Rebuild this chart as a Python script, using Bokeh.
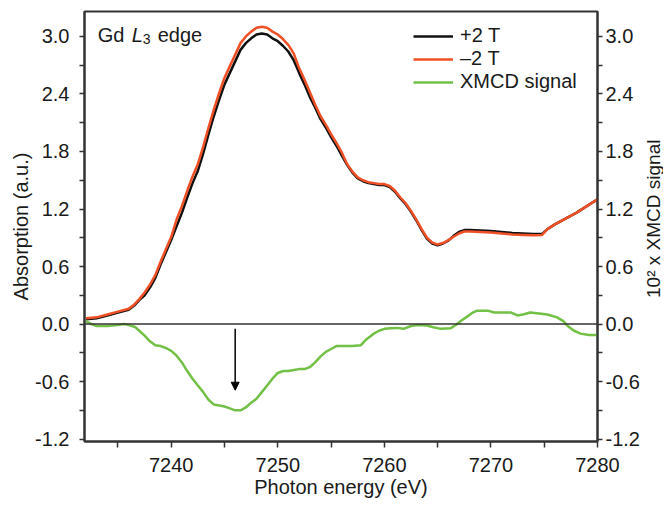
import math
from bokeh.plotting import figure
from bokeh.layouts import row
from bokeh.models import (LinearAxis, FixedTicker, PrintfTickFormatter, Span, Arrow,
                          NormalHead, Label, Legend, LegendItem, Range1d)
from bokeh.embed import file_html
from bokeh.resources import INLINE

# ---------------- data ----------------
energy = [7232.0, 7233.0, 7234.0, 7235.0, 7236.0, 7236.5, 7237.0, 7237.5, 7238.0, 7238.5,
          7239.0, 7239.5, 7240.0, 7240.5, 7241.0, 7241.5, 7242.0, 7242.5, 7243.0, 7243.5,
          7244.0, 7244.5, 7245.0, 7245.5, 7246.0, 7246.5, 7247.0, 7247.5, 7248.0, 7248.5,
          7249.0, 7249.5, 7250.0, 7250.5, 7251.0, 7251.5, 7252.0, 7252.5, 7253.0, 7253.5,
          7254.0, 7254.5, 7255.0, 7255.5, 7256.0, 7256.5, 7257.0, 7257.5, 7258.0, 7258.5,
          7259.0, 7259.5, 7260.0, 7260.5, 7261.0, 7261.5, 7262.0, 7262.5, 7263.0, 7263.5,
          7264.0, 7264.5, 7265.0, 7265.5, 7266.0, 7266.5, 7267.0, 7267.5, 7268.0, 7269.0,
          7270.0, 7271.0, 7272.0, 7273.0, 7274.0, 7274.8, 7275.3, 7276.0, 7277.0, 7278.0,
          7279.0, 7280.0]

abs_plus2T = [0.05, 0.06, 0.09, 0.12, 0.15, 0.19, 0.25, 0.30, 0.38, 0.48,
              0.62, 0.75, 0.88, 1.02, 1.16, 1.32, 1.47, 1.60, 1.78, 1.98,
              2.17, 2.34, 2.50, 2.62, 2.74, 2.86, 2.93, 2.98, 3.02, 3.03,
              3.02, 2.98, 2.95, 2.90, 2.84, 2.75, 2.62, 2.50, 2.37, 2.26,
              2.14, 2.05, 1.95, 1.86, 1.76, 1.66, 1.58, 1.52, 1.49, 1.47,
              1.46, 1.45, 1.45, 1.43, 1.38, 1.31, 1.25, 1.17, 1.08, 0.98,
              0.89, 0.84, 0.82, 0.84, 0.87, 0.92, 0.96, 0.98, 0.98, 0.975,
              0.97, 0.96, 0.95, 0.945, 0.94, 0.94, 0.99, 1.04, 1.10, 1.16,
              1.23, 1.30]

abs_minus2T = [0.06, 0.07, 0.10, 0.13, 0.16, 0.20, 0.26, 0.33, 0.41, 0.51,
               0.65, 0.78, 0.91, 1.09, 1.23, 1.39, 1.54, 1.67, 1.85, 2.05,
               2.24, 2.41, 2.57, 2.69, 2.81, 2.93, 3.00, 3.05, 3.09, 3.10,
               3.09, 3.05, 3.02, 2.97, 2.91, 2.82, 2.67, 2.55, 2.42, 2.29,
               2.17, 2.08, 1.98, 1.89, 1.79, 1.67, 1.59, 1.53, 1.50, 1.48,
               1.47, 1.46, 1.46, 1.44, 1.39, 1.32, 1.26, 1.18, 1.09, 0.99,
               0.90, 0.85, 0.83, 0.845, 0.875, 0.91, 0.945, 0.965, 0.965, 0.96,
               0.955, 0.945, 0.935, 0.93, 0.925, 0.93, 0.99, 1.04, 1.10, 1.16,
               1.23, 1.30]

xmcd_energy = [7232.0, 7232.5, 7233.0, 7234.0, 7235.0, 7235.6, 7236.0, 7236.6, 7237.0, 7237.5,
               7238.0, 7238.5, 7239.0, 7239.5, 7240.0, 7240.5, 7241.0, 7241.5, 7242.0, 7242.5,
               7243.0, 7243.5, 7244.0, 7244.5, 7245.0, 7245.5, 7246.0, 7246.5, 7247.0, 7247.5,
               7248.0, 7248.5, 7249.0, 7249.5, 7250.0, 7250.5, 7251.0, 7251.5, 7252.0, 7252.5,
               7253.0, 7253.5, 7254.0, 7254.5, 7255.0, 7255.5, 7256.0, 7257.0, 7257.8, 7258.3,
               7259.0, 7259.5, 7260.0, 7260.6, 7261.2, 7261.8, 7262.5, 7263.1, 7264.0, 7264.5,
               7265.3, 7266.2, 7266.7, 7267.2, 7267.8, 7268.3, 7268.7, 7269.7, 7270.3, 7271.9,
               7272.5, 7273.0, 7273.7, 7275.3, 7276.2, 7276.8, 7277.2, 7277.8, 7278.4, 7279.2,
               7280.0]

xmcd_signal = [0.03, 0.0, -0.02, -0.02, -0.01, 0.0, -0.01, -0.03, -0.07, -0.12,
               -0.18, -0.22, -0.23, -0.25, -0.28, -0.33, -0.40, -0.49, -0.57, -0.64,
               -0.71, -0.79, -0.84, -0.85, -0.86, -0.88, -0.90, -0.90, -0.87, -0.82,
               -0.78, -0.71, -0.64, -0.57, -0.51, -0.49, -0.49, -0.48, -0.47, -0.47,
               -0.45, -0.40, -0.34, -0.29, -0.26, -0.23, -0.23, -0.23, -0.22, -0.16,
               -0.10, -0.07, -0.05, -0.045, -0.04, -0.05, -0.02, -0.01, -0.015, -0.03,
               -0.05, -0.045, -0.01, 0.035, 0.08, 0.12, 0.14, 0.14, 0.12, 0.12,
               0.09, 0.10, 0.12, 0.10, 0.07, 0.03, -0.02, -0.07, -0.10, -0.115,
               -0.115]

x_ticks = [7240, 7250, 7260, 7270, 7280]
x_minor_ticks = [7235, 7245, 7255, 7265, 7275]
y_ticks = [-1.2, -0.6, 0.0, 0.6, 1.2, 1.8, 2.4, 3.0]
y_minor_ticks = [-0.9, -0.3, 0.3, 0.9, 1.5, 2.1, 2.7]

arrow_energy = 7246.0
arrow_from = -0.05
arrow_to = -0.69

series_labels = ["+2 T", "\u20132 T", "XMCD signal"]
x_title = "Photon energy (eV)"
y_title = "Absorption (a.u.)"
y2_title = "10\u00b2 x XMCD signal"

# ---------------- styling ----------------
FONT = "Liberation Sans"
FS = "20px"
AX = "#333333"
BLACK = "#111111"
RED = "#ef5026"
GREEN = "#72c046"

p = figure(width=643, height=500, output_backend="svg", toolbar_location=None,
           x_range=Range1d(7231.86, 7280.0), y_range=Range1d(-1.225, 3.26),
           min_border_left=84, min_border_right=46, min_border_top=11, min_border_bottom=57)
p.background_fill_color = "white"
p.border_fill_color = "white"
p.outline_line_color = AX
p.outline_line_width = 2
p.grid.visible = False

# zero line
p.add_layout(Span(location=0, dimension="width", line_color=AX, line_width=1.5))

r_plus = p.line(energy, abs_plus2T, line_color=BLACK, line_width=2.5)
r_minus = p.line(energy, abs_minus2T, line_color=RED, line_width=2.5)
r_xmcd = p.line(xmcd_energy, xmcd_signal, line_color=GREEN, line_width=2.5)

p.add_layout(Arrow(end=NormalHead(size=8, fill_color="black", line_color="black"),
                   x_start=arrow_energy, y_start=arrow_from, x_end=arrow_energy, y_end=arrow_to,
                   line_color="black", line_width=1.5))

def style_axis(ax):
    ax.axis_line_color = AX
    ax.axis_line_width = 2
    ax.major_tick_line_color = AX
    ax.minor_tick_line_color = AX
    ax.major_tick_line_width = 1.5
    ax.minor_tick_line_width = 1.5
    ax.major_tick_in = 0
    ax.minor_tick_in = 0
    ax.major_tick_out = 5
    ax.minor_tick_out = 5
    ax.major_label_text_font = FONT
    ax.major_label_text_font_size = FS
    ax.major_label_text_color = "#1a1a1a"
    ax.axis_label_text_font = FONT
    ax.axis_label_text_font_size = FS
    ax.axis_label_text_font_style = "normal"
    ax.axis_label_text_color = "#1a1a1a"

xa = p.xaxis[0]
xa.ticker = FixedTicker(ticks=x_ticks, minor_ticks=x_minor_ticks)
style_axis(xa)
xa.major_tick_out = 6
xa.minor_tick_out = 6
xa.major_label_standoff = 10
xa.axis_label = x_title
xa.axis_label_standoff = 1

ya = p.yaxis[0]
ya.ticker = FixedTicker(ticks=y_ticks, minor_ticks=y_minor_ticks)
ya.formatter = PrintfTickFormatter(format="%.1f")
style_axis(ya)
ya.major_label_standoff = 10
ya.axis_label = y_title
ya.axis_label_standoff = 0

ra = LinearAxis(ticker=FixedTicker(ticks=y_ticks, minor_ticks=y_minor_ticks),
                formatter=PrintfTickFormatter(format="%.1f"))
style_axis(ra)
ra.major_label_standoff = 3
p.add_layout(ra, "right")

# "Gd L3 edge" title inside the plot
tx, ty = 7233.1, 3.02
p.add_layout(Label(x=tx, y=ty, text="Gd", text_font=FONT, text_font_size=FS,
                   text_color="#1a1a1a", text_baseline="alphabetic"))
p.add_layout(Label(x=tx, y=ty, x_offset=34, text="L", text_font=FONT, text_font_size=FS,
                   text_font_style="italic", text_color="#1a1a1a", text_baseline="alphabetic"))
p.add_layout(Label(x=tx, y=ty, x_offset=45, y_offset=-4, text="3", text_font=FONT,
                   text_font_size="14px", text_color="#1a1a1a", text_baseline="alphabetic"))
p.add_layout(Label(x=tx, y=ty, x_offset=60, text="edge", text_font=FONT, text_font_size=FS,
                   text_color="#1a1a1a", text_baseline="alphabetic"))

legend = Legend(items=[LegendItem(label=series_labels[0], renderers=[r_plus]),
                       LegendItem(label=series_labels[1], renderers=[r_minus]),
                       LegendItem(label=series_labels[2], renderers=[r_xmcd])],
                location=(329, 348))
legend.border_line_color = None
legend.background_fill_alpha = 0
legend.label_text_font = FONT
legend.label_text_font_size = FS
legend.label_text_color = "#1a1a1a"
legend.glyph_width = 40
legend.glyph_height = 20
legend.label_height = 20
legend.label_standoff = 7
legend.spacing = -2
legend.padding = 0
legend.margin = 0
p.add_layout(legend, "center")

# narrow strip to the right carrying the right-axis title, reading upwards
strip = figure(width=20, height=500, output_backend="svg", toolbar_location=None,
               x_range=Range1d(0, 20), y_range=Range1d(0, 500), min_border=0)
strip.xaxis.visible = False
strip.yaxis.visible = False
strip.grid.visible = False
strip.outline_line_color = None
strip.background_fill_color = "white"
strip.border_fill_color = "white"
strip.add_layout(Label(x=10, y=259, text=y2_title, text_font=FONT, text_font_size="19px",
                       text_color="#1a1a1a", text_align="center", text_baseline="middle",
                       angle=math.pi / 2))

layout = row(p, strip, spacing=0)
open("out.html", "w").write(file_html(layout, INLINE))
